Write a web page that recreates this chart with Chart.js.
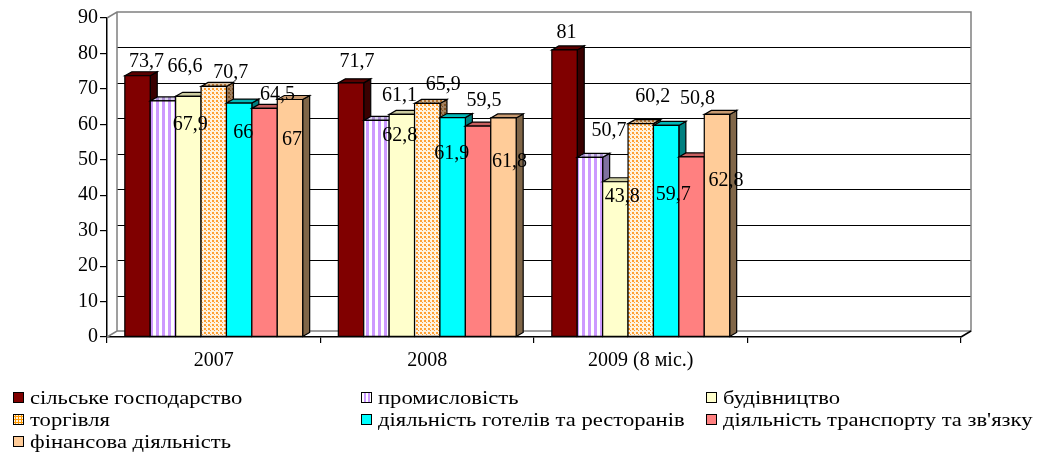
<!DOCTYPE html>
<html><head><meta charset="utf-8">
<script src="https://cdn.jsdelivr.net/npm/chart.js@4.4.0/dist/chart.umd.min.js"></script>
<style>
html,body{margin:0;padding:0;background:#fff;}
#wrap{position:relative;width:1037px;height:453px;overflow:hidden;}
#c{position:absolute;left:0;top:0;}
#legend{position:absolute;left:0;top:0;width:1037px;height:453px;font-family:"Liberation Serif","Times New Roman",serif;font-size:19px;color:#000;pointer-events:none;}
.li{position:absolute;white-space:nowrap;height:22px;line-height:22px;}
.sw{position:absolute;left:0;top:5px;width:9px;height:9px;border:1.5px solid #000;}
.tx{position:absolute;left:17px;top:0;transform:scaleX(1.19);transform-origin:0 50%;}
</style></head>
<body><div id="wrap"><canvas id="c" width="1037" height="453"></canvas><div id="legend"></div></div>
<script>
// ---- data ----
const categories = ['2007', '2008', '2009 (8 міс.)', ''];
const seriesNames = ['сільське господарство', 'промисловість', 'будівництво', 'торгівля',
  'діяльність готелів та ресторанів', 'діяльність транспорту та зв\'язку', 'фінансова діяльність'];
const agriculture  = [73.7, 71.7, 81,   null];
const industry     = [66.6, 61.1, 50.7, null];
const construction = [67.9, 62.8, 43.8, null];
const trade        = [70.7, 65.9, 60.2, null];
const hotels       = [66,   61.9, 59.7, null];
const transport    = [64.5, 59.5, 50.8, null];
const finance      = [67,   61.8, 62.8, null];
const yTicks = [0, 10, 20, 30, 40, 50, 60, 70, 80, 90];
const valueLabels = [
  ['73,7', '71,7', '81'], ['66,6', '61,1', '50,7'], ['67,9', '62,8', '43,8'], ['70,7', '65,9', '60,2'],
  ['66', '61,9', '59,7'], ['64,5', '59,5', '50,8'], ['67', '61,8', '62,8']
];
// ---- label placement (pixel offsets from bar top centre) ----
const labelOffsets = [
  [[9,-14],[6,-21],[2,-17]],
  [[22,-34],[23,-25],[19,-27]],
  [[2,28],[-2,21],[7,15]],
  [[17,-14],[16,-19],[12,-27]],
  [[4,30],[-1,36],[7,69]],
  [[13,-14],[6,-25],[6,-58]],
  [[2,40],[6,44],[9,66]]
];
const seriesData = [agriculture, industry, construction, trade, hotels, transport, finance];

// ---- styles ----
function stripes(a, b) {
  const c = document.createElement('canvas'); c.width = 6; c.height = 6;
  const g = c.getContext('2d'); g.fillStyle = b; g.fillRect(0,0,6,6); g.fillStyle = a; g.fillRect(0,0,3,6);
  return c;
}
function dots(bg, dot) {
  const c = document.createElement('canvas'); c.width = 4; c.height = 4;
  const g = c.getContext('2d'); g.fillStyle = bg; g.fillRect(0,0,4,4); g.fillStyle = dot;
  g.fillRect(0,0,2,2); g.fillRect(2,2,1,1);
  return c;
}
const ctx0 = document.getElementById('c').getContext('2d');
const pat = (cv) => ctx0.createPattern(cv, 'repeat');
const fronts = ['#800000', pat(stripes('#cc99ff', '#ffffff')), '#ffffcc', pat(dots('#fff3e0', '#ffa033')), '#00ffff', '#ff8080', '#ffcc99'];
const tops   = ['#5a0000', pat(stripes('#a88cd0', '#d8d0ec')), '#cccca0', pat(dots('#d8c0a0', '#b07030')), '#00b8b8', '#c86060', '#c89a70'];
const sides  = ['#3a0000', '#7f70a0', '#999977', pat(dots('#a08060', '#805020')), '#008080', '#804040', '#806648'];
const legendCss = ['#800000',
  'repeating-linear-gradient(90deg,#fff 0 2px,#cc99ff 2px 4px)', '#ffffcc',
  'radial-gradient(circle,#ff9900 1px,#fff3e0 1.2px) 0 0/3px 3px', '#00ffff', '#ff8080', '#ffcc99'];
const legendPos = [[13,398],[361,398],[706,398],[13,420],[361,420],[706,420],[13,442]];
const DEPTH = {dx: 7, dy: -4};
const WALL = {dx: 10, dy: -6};
const FONT = '"Liberation Serif", "Times New Roman", serif';

const threeD = {
  id: 'threeD',
  beforeDatasetsDraw(chart) {
    const {ctx, chartArea: a, scales: {y}} = chart;
    const L = a.left, R = a.right, B = y.getPixelForValue(0), T = y.getPixelForValue(90);
    ctx.save();
    ctx.lineWidth = 1;
    ctx.strokeStyle = '#000';
    yTicks.forEach(v => {
      if (v === 0 || v === 90) return;
      const yy = Math.round(y.getPixelForValue(v) + WALL.dy) + 0.5;
      ctx.beginPath(); ctx.moveTo(L + WALL.dx, yy); ctx.lineTo(R + WALL.dx, yy); ctx.stroke();
    });
    ctx.strokeStyle = '#808080';
    ctx.lineWidth = 1.5;
    ctx.beginPath();
    ctx.moveTo(L, T); ctx.lineTo(L + WALL.dx, T + WALL.dy); ctx.lineTo(R + WALL.dx, T + WALL.dy);
    ctx.lineTo(R + WALL.dx, B + WALL.dy); ctx.lineTo(L + WALL.dx, B + WALL.dy); ctx.lineTo(L, B);
    ctx.moveTo(L + WALL.dx, T + WALL.dy); ctx.lineTo(L + WALL.dx, B + WALL.dy);
    ctx.stroke();
    ctx.strokeStyle = '#000';
    ctx.beginPath(); ctx.moveTo(R, B); ctx.lineTo(R + WALL.dx, B + WALL.dy); ctx.stroke();
    ctx.restore();
  },
  afterDatasetsDraw(chart) {
    const ctx = chart.ctx;
    ctx.save();
    ctx.lineWidth = 1.2;
    ctx.strokeStyle = '#000';
    ctx.lineJoin = 'miter';
    categories.forEach((cat, c) => {
      chart.data.datasets.forEach((ds, s) => {
        if (ds.data[c] == null) return;
        const el = chart.getDatasetMeta(s).data[c];
        const {x, y, base, width} = el.getProps(['x', 'y', 'base', 'width'], true);
        const l = x - width / 2, r = x + width / 2;
        ctx.beginPath();
        ctx.moveTo(r, y); ctx.lineTo(r + DEPTH.dx, y + DEPTH.dy); ctx.lineTo(r + DEPTH.dx, base + DEPTH.dy); ctx.lineTo(r, base); ctx.closePath();
        ctx.fillStyle = sides[s]; ctx.fill(); ctx.stroke();
        ctx.beginPath();
        ctx.moveTo(l, y); ctx.lineTo(l + DEPTH.dx, y + DEPTH.dy); ctx.lineTo(r + DEPTH.dx, y + DEPTH.dy); ctx.lineTo(r, y); ctx.closePath();
        ctx.fillStyle = tops[s]; ctx.fill(); ctx.stroke();
        ctx.beginPath(); ctx.rect(l, y, width, base - y);
        ctx.fillStyle = fronts[s]; ctx.fill(); ctx.stroke();
      });
    });
    ctx.fillStyle = '#000';
    ctx.font = '20px ' + FONT;
    ctx.textAlign = 'center';
    ctx.textBaseline = 'middle';
    categories.forEach((cat, c) => {
      chart.data.datasets.forEach((ds, s) => {
        if (ds.data[c] == null) return;
        const el = chart.getDatasetMeta(s).data[c];
        const off = labelOffsets[s][c];
        ctx.fillText(valueLabels[s][c], el.x + off[0], el.y + off[1]);
      });
    });
    ctx.restore();
  }
};

const chart = new Chart(document.getElementById('c'), {
  type: 'bar',
  data: {
    labels: categories,
    datasets: seriesData.map((d, i) => ({
      label: seriesNames[i], data: d, backgroundColor: fronts[i], borderColor: '#000', borderWidth: 1,
      categoryPercentage: 0.833, barPercentage: 1.0
    }))
  },
  options: {
    responsive: false, animation: false, devicePixelRatio: 1,
    layout: {padding: {left: 0, right: 76, top: 18, bottom: 0}},
    plugins: {legend: {display: false}, tooltip: {enabled: false}},
    scales: {
      x: {
        grid: {display: true, drawOnChartArea: false, drawTicks: true, tickLength: 6, color: '#000', lineWidth: 1.2},
        border: {display: true, color: '#000', width: 1.5},
        ticks: {color: '#000', font: {family: FONT, size: 20}, padding: 6, maxRotation: 0, autoSkip: false},
        afterFit(s) { s.height = 116; }
      },
      y: {
        min: 0, max: 90,
        afterBuildTicks(s) { s.ticks = yTicks.map(v => ({value: v})); },
        grid: {display: true, drawOnChartArea: false, drawTicks: true, tickLength: 7, color: '#000', lineWidth: 1.2},
        border: {display: true, color: '#000', width: 1.5},
        ticks: {color: '#000', font: {family: FONT, size: 20}, padding: 2},
        afterFit(s) { s.width = 107; }
      }
    }
  },
  plugins: [threeD]
});

// HTML legend built from the chart's datasets
const lg = document.getElementById('legend');
chart.data.datasets.forEach((ds, i) => {
  const d = document.createElement('div');
  d.className = 'li';
  d.style.left = legendPos[i][0] + 'px';
  d.style.top = (legendPos[i][1] - 11) + 'px';
  d.innerHTML = '<span class="sw" style="background:' + legendCss[i] + '"></span><span class="tx"></span>';
  d.querySelector('.tx').textContent = ds.label;
  lg.appendChild(d);
});
</script>
</body></html>
